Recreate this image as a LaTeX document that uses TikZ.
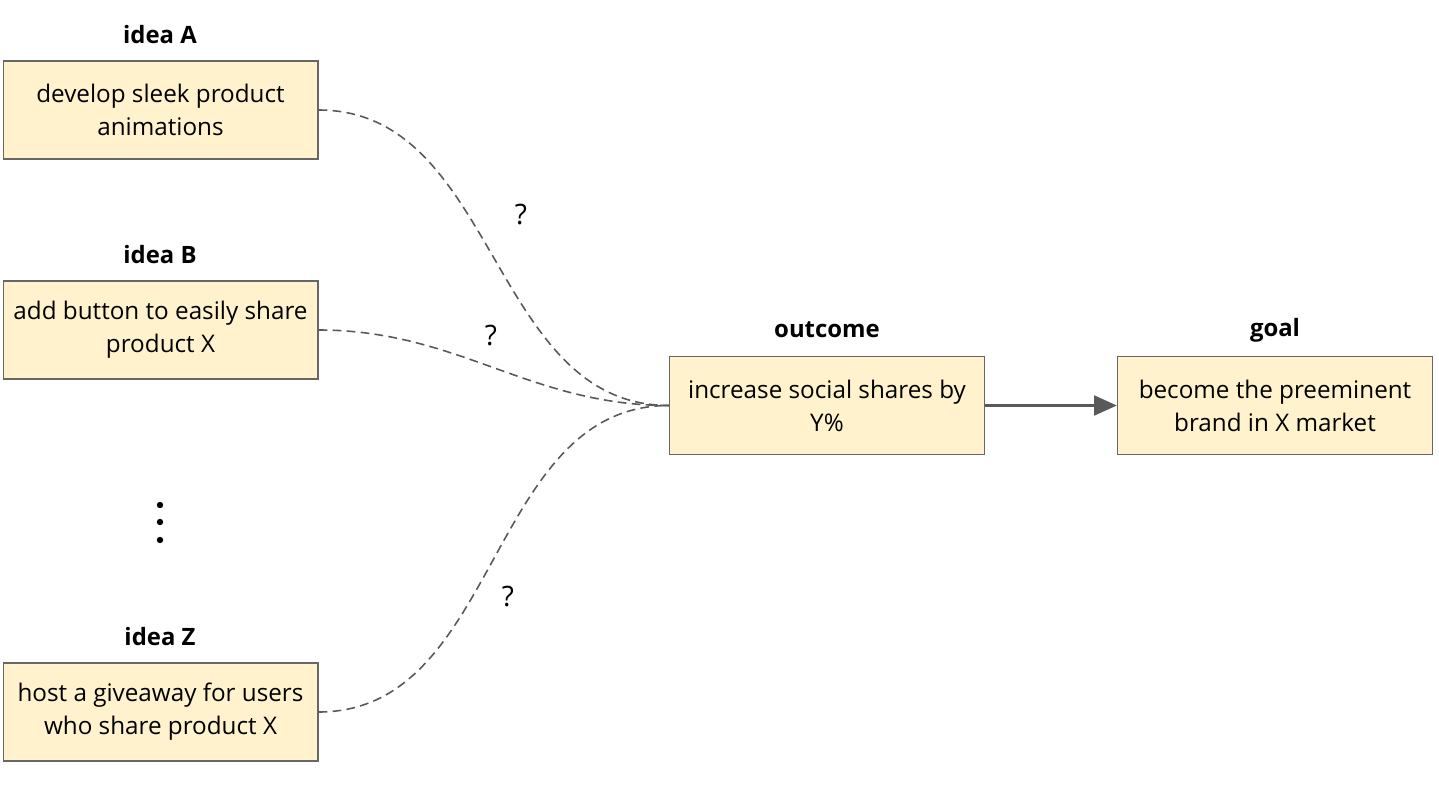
\documentclass[tikz,border=0pt]{standalone}
\usepackage{fontspec}
\setmainfont{Open Sans}
\usepackage{tikz}
\usetikzlibrary{arrows.meta,positioning}
\definecolor{boxfill}{HTML}{FFF2CC}
\definecolor{boxline}{HTML}{666666}
\definecolor{edge}{HTML}{595959}

\begin{document}
\begin{tikzpicture}[x=0.02cm, y=-0.02cm, thick,
	main/.style = {draw=boxline, fill=boxfill, line width=0.6pt, minimum width=6.3cm, minimum height=1.96cm, align=center, inner sep=0pt, font=\fontsize{13.8}{18.7}\selectfont},
	head/.style = {font=\fontsize{13.6}{15}\selectfont\bfseries},
	link/.style = {draw=edge, dashed, line width=0.9pt, dash pattern=on 5pt off 3pt},
	ask/.style = {font=\fontsize{16}{18}\selectfont}]
	\useasboundingbox (0,0) rectangle (1439,811);
	\node[main] (a) at (160.5,110) {develop sleek product\\animations};
	\node[main] (b) at (160.5,330) {add button to easily share\\product X};
	\node[main] (z) at (160.5,712) {host a giveaway for users\\who share product X};
	\node[main] (out) at (827,405.5) {increase social shares by\\Y\%};
	\node[main] (goal) at (1275,405.5) {become the preeminent\\brand in X market};
	\node[head] (ha) at (160,35) {idea A};
	\node[head] (hb) at (160,255) {idea B};
	\node[head] (hz) at (160,637) {idea Z};
	\node[head] (hout) at (827,330) {outcome};
	\node[head] (hgoal) at (1275,330) {goal};
	\node[ask] (qa) at (521,215) {?};
	\node[ask] (qb) at (491,336) {?};
	\node[ask] (qz) at (508,597) {?};
	\foreach \y in {505,522,540}
		\fill (160,\y) circle (3.2);
	\draw[link] (a.east) to[out=0, in=180] (out.west);
	\draw[link] (b.east) to[out=0, in=180] (out.west);
	\draw[link] (z.east) to[out=0, in=180] (out.west);
	\draw[draw=edge, line width=2.2pt, -{Triangle[length=13pt, width=11pt]}] (out) -- (goal);
\end{tikzpicture}
\end{document}
